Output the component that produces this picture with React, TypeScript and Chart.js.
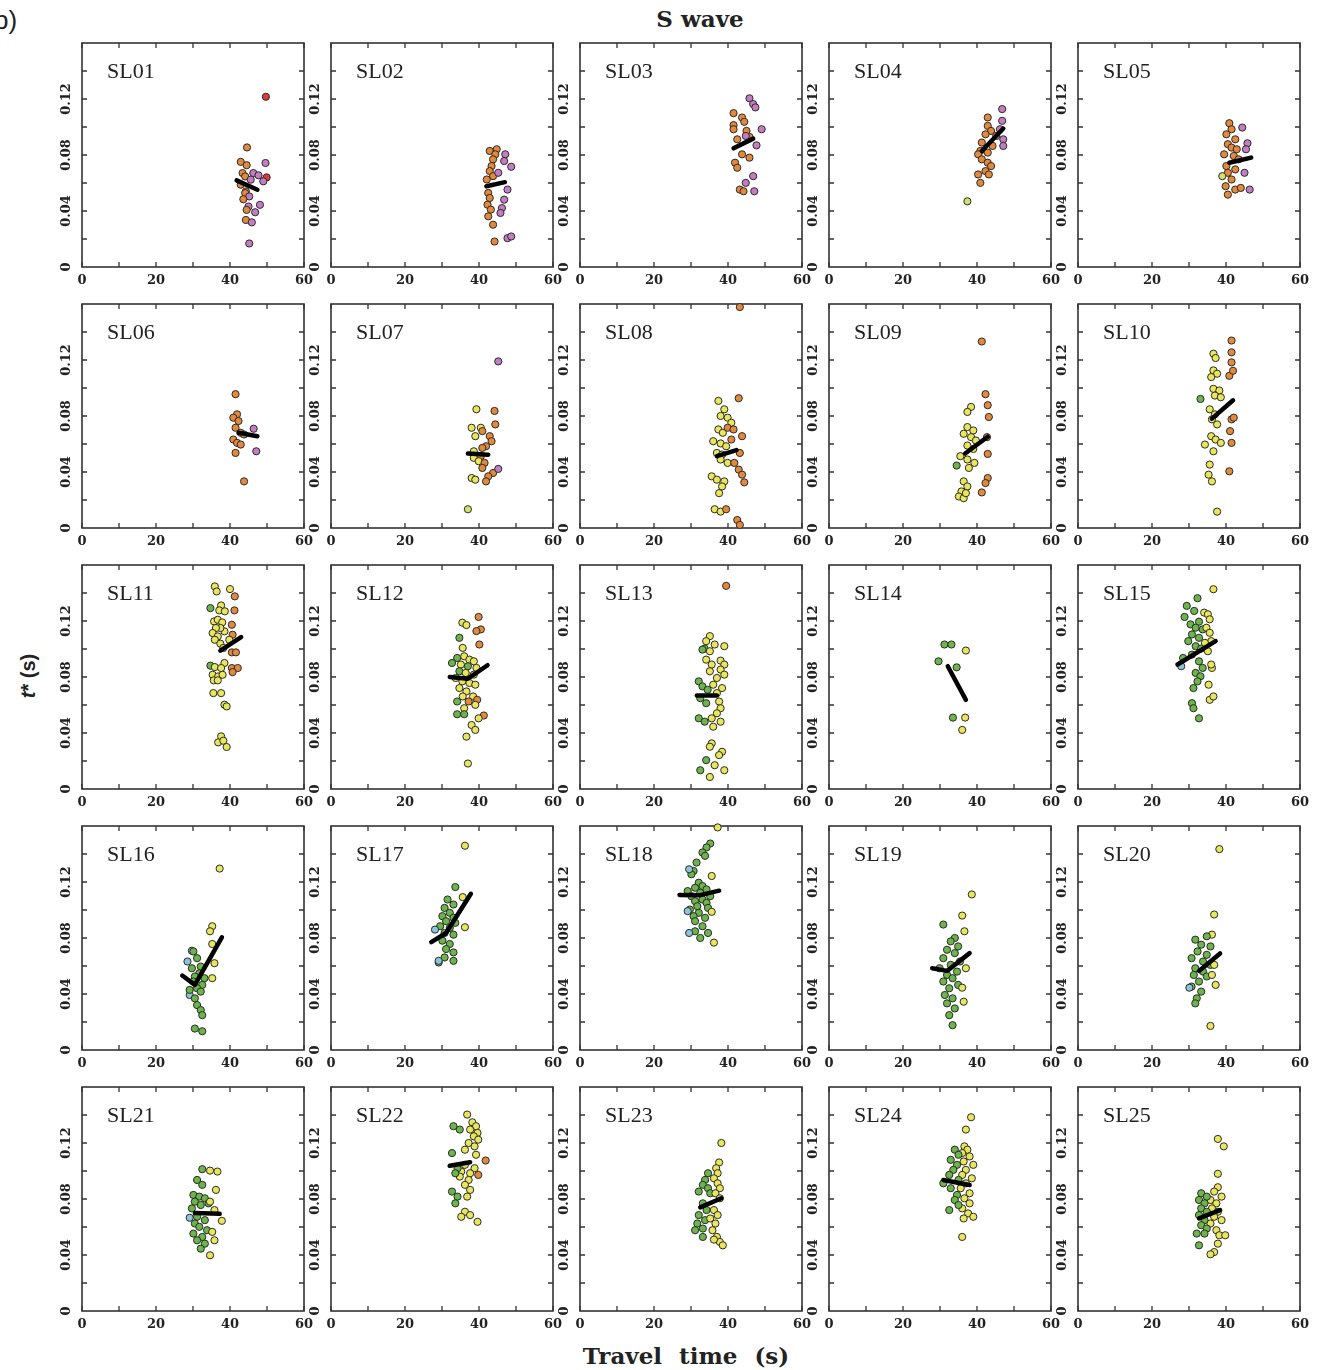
import React, { useEffect, useRef } from "react";
import { Chart, registerables } from "chart.js";

Chart.register(...registerables);

// [travel time (s), t* (s), source group]
type Pt = [number, number, string];
type Fit = [number, number][];

const X_TICKS = [0, 10, 20, 30, 40, 50, 60];
const X_LABELS = [0, 20, 40, 60];
const Y_TICKS = [0.02, 0.04, 0.06, 0.08, 0.1, 0.12, 0.14];
const Y_LABELS = [0, 0.04, 0.08, 0.12];
const Y_LABEL_TEXT = ["0", "0.04", "0.08", "0.12"];
const X_MAX = 60;
const Y_MAX = 0.16;

const GROUP_COLORS: Record<string, string> = {
  O: "#e2893c",
  P: "#c47cc2",
  R: "#e03a3a",
  Y: "#e9e65a",
  G: "#6cb54a",
  B: "#8cc4dc",
  L: "#cfe36a",
};

const SL01: Pt[] = [
  [49.7, 0.1216, "R"], [44.6, 0.0854, "O"], [42.9, 0.0751, "O"], [44.5, 0.0727, "O"], [49.6, 0.0743, "P"],
  [43.4, 0.0671, "O"], [44.1, 0.0647, "O"], [46.3, 0.0671, "P"], [47.7, 0.0655, "P"], [49.9, 0.064, "R"],
  [49.0, 0.0612, "P"], [45.6, 0.0624, "P"], [42.9, 0.0588, "O"], [44.3, 0.054, "O"], [44.1, 0.0528, "O"],
  [45.2, 0.0504, "P"], [43.6, 0.0484, "O"], [45.0, 0.0432, "P"], [48.1, 0.0444, "P"], [44.5, 0.0408, "O"],
  [46.8, 0.0391, "P"], [44.3, 0.0336, "O"], [45.9, 0.0319, "P"], [45.2, 0.0168, "P"],
];
const SL01_FIT: Fit = [[41.8, 0.0619], [47.4, 0.0552]];

const SL02: Pt[] = [
  [44.8, 0.0841, "O"], [42.9, 0.0829, "O"], [44.4, 0.0805, "O"], [43.8, 0.0769, "O"], [43.4, 0.0721, "O"],
  [42.9, 0.0685, "O"], [43.8, 0.0649, "O"], [42.1, 0.0625, "O"], [42.5, 0.0529, "O"], [42.9, 0.0493, "O"],
  [42.3, 0.0445, "O"], [43.2, 0.041, "O"], [42.5, 0.0362, "O"], [43.8, 0.0302, "O"], [44.2, 0.0182, "O"],
  [47.1, 0.0805, "P"], [46.8, 0.0757, "P"], [48.7, 0.0716, "P"], [45.2, 0.0673, "P"], [47.7, 0.0553, "P"],
  [46.8, 0.0481, "P"], [46.2, 0.0421, "P"], [45.8, 0.0386, "P"], [47.7, 0.0206, "P"], [48.7, 0.0218, "P"],
];
const SL02_FIT: Fit = [[42.0, 0.0577], [47.0, 0.0606]];

const SL03: Pt[] = [
  [45.8, 0.1205, "P"], [46.8, 0.1164, "P"], [47.4, 0.114, "P"], [41.5, 0.1099, "O"], [43.8, 0.1068, "O"],
  [44.4, 0.1037, "O"], [41.5, 0.1013, "O"], [41.5, 0.0984, "O"], [49.1, 0.0984, "P"], [45.0, 0.0972, "O"],
  [45.8, 0.0929, "O"], [44.8, 0.0936, "P"], [42.5, 0.0912, "O"], [47.7, 0.0869, "P"], [43.8, 0.0805, "O"],
  [45.8, 0.0781, "O"], [41.9, 0.0745, "O"], [42.5, 0.0709, "O"], [46.8, 0.0649, "P"], [44.8, 0.0601, "P"],
  [43.2, 0.0553, "O"], [44.2, 0.0541, "O"], [47.1, 0.0541, "P"],
];
const SL03_FIT: Fit = [[41.5, 0.0848], [46.8, 0.0917]];

const SL04: Pt[] = [
  [46.8, 0.1128, "P"], [42.9, 0.1068, "O"], [46.8, 0.1044, "P"], [42.9, 0.1008, "O"], [43.8, 0.0972, "O"],
  [46.2, 0.0984, "P"], [42.3, 0.0948, "O"], [45.2, 0.0936, "O"], [47.1, 0.0912, "P"], [41.3, 0.0889, "O"],
  [44.2, 0.0865, "O"], [47.1, 0.0865, "P"], [40.9, 0.0829, "O"], [42.9, 0.0817, "O"], [40.3, 0.0805, "O"],
  [41.3, 0.0769, "O"], [42.9, 0.0745, "O"], [43.8, 0.0721, "O"], [42.3, 0.0685, "O"], [40.3, 0.0661, "O"],
  [43.2, 0.0661, "O"], [40.9, 0.0601, "O"], [37.4, 0.0469, "L"],
];
const SL04_FIT: Fit = [[41.3, 0.0829], [47.1, 0.0989]];

const SL05: Pt[] = [
  [40.9, 0.1027, "O"], [41.5, 0.0984, "O"], [40.1, 0.0948, "O"], [42.5, 0.0912, "O"], [40.5, 0.0877, "O"],
  [41.5, 0.0853, "O"], [42.9, 0.0841, "O"], [39.5, 0.0805, "O"], [42.1, 0.0793, "O"], [40.1, 0.0721, "O"],
  [42.5, 0.0697, "O"], [40.5, 0.0673, "O"], [41.5, 0.0625, "O"], [39.9, 0.0577, "O"], [42.5, 0.0553, "O"],
  [40.5, 0.0517, "O"], [43.4, 0.0769, "O"], [44.0, 0.0565, "O"], [44.4, 0.0996, "P"], [45.8, 0.0884, "P"],
  [45.4, 0.0841, "P"], [45.0, 0.0673, "P"], [46.4, 0.0553, "P"], [39.0, 0.0649, "L"],
];
const SL05_FIT: Fit = [[40.9, 0.0745], [46.8, 0.0781]];

const SL06: Pt[] = [
  [41.5, 0.0956, "O"], [41.9, 0.0812, "O"], [40.9, 0.0788, "O"], [42.3, 0.0764, "O"], [41.5, 0.0716, "O"],
  [42.9, 0.068, "O"], [43.8, 0.0668, "O"], [40.9, 0.0632, "O"], [41.9, 0.0608, "O"], [42.9, 0.0596, "O"],
  [41.5, 0.0536, "O"], [43.8, 0.0333, "O"], [46.4, 0.0709, "P"], [47.1, 0.0548, "P"],
];
const SL06_FIT: Fit = [[42.3, 0.068], [47.4, 0.0656]];

const SL07: Pt[] = [
  [45.2, 0.119, "P"], [39.3, 0.0848, "Y"], [44.2, 0.0836, "O"], [44.4, 0.074, "O"], [38.0, 0.0716, "Y"],
  [40.5, 0.0716, "Y"], [40.9, 0.0692, "O"], [39.0, 0.0656, "Y"], [42.9, 0.0656, "O"], [43.4, 0.062, "O"],
  [41.9, 0.0584, "O"], [40.9, 0.0572, "O"], [38.6, 0.0548, "Y"], [40.5, 0.0513, "O"], [38.6, 0.0501, "Y"],
  [39.9, 0.0477, "Y"], [41.5, 0.0465, "O"], [40.9, 0.0429, "O"], [43.8, 0.0393, "O"], [42.5, 0.0369, "O"],
  [41.9, 0.0333, "O"], [38.0, 0.0357, "Y"], [39.0, 0.0345, "Y"], [45.2, 0.0422, "P"], [37.0, 0.0134, "L"],
];
const SL07_FIT: Fit = [[37.0, 0.0532], [42.5, 0.0524]];

const SL08: Pt[] = [
  [43.2, 0.1578, "O"], [37.4, 0.0908, "Y"], [42.9, 0.0927, "O"], [39.0, 0.0848, "Y"], [38.0, 0.08, "Y"],
  [39.9, 0.0788, "Y"], [40.9, 0.0752, "Y"], [37.4, 0.0704, "Y"], [38.6, 0.068, "Y"], [39.9, 0.0716, "O"],
  [41.5, 0.0704, "O"], [43.8, 0.0656, "O"], [40.9, 0.0632, "O"], [36.0, 0.062, "Y"], [38.0, 0.0604, "Y"],
  [39.5, 0.0584, "Y"], [37.0, 0.0536, "Y"], [38.4, 0.0525, "Y"], [38.0, 0.0489, "Y"], [39.9, 0.0465, "Y"],
  [43.2, 0.0536, "O"], [42.9, 0.0417, "O"], [43.8, 0.0381, "O"], [44.4, 0.0326, "O"], [41.7, 0.0465, "O"],
  [35.6, 0.0369, "Y"], [37.0, 0.0345, "Y"], [39.0, 0.0333, "Y"], [38.4, 0.0297, "Y"], [37.6, 0.0249, "Y"],
  [36.4, 0.0134, "Y"], [38.0, 0.0117, "Y"], [39.5, 0.0134, "O"], [42.5, 0.0057, "O"], [43.2, 0.0022, "O"],
];
const SL08_FIT: Fit = [[37.0, 0.0513], [42.3, 0.0556]];

const SL09: Pt[] = [
  [41.3, 0.1332, "O"], [42.3, 0.0956, "O"], [38.4, 0.0865, "Y"], [37.4, 0.0829, "Y"], [42.9, 0.0877, "O"],
  [43.2, 0.0793, "O"], [37.4, 0.0721, "Y"], [39.0, 0.0697, "Y"], [36.4, 0.0673, "Y"], [38.4, 0.0649, "Y"],
  [39.7, 0.0625, "Y"], [37.4, 0.0589, "Y"], [39.0, 0.0565, "Y"], [42.7, 0.0649, "O"], [42.9, 0.0529, "O"],
  [35.5, 0.0513, "Y"], [37.4, 0.0489, "Y"], [39.3, 0.0465, "Y"], [37.8, 0.0429, "Y"], [36.4, 0.0333, "Y"],
  [37.4, 0.0297, "Y"], [35.8, 0.0261, "Y"], [35.1, 0.0225, "Y"], [36.4, 0.0213, "Y"], [37.0, 0.0249, "Y"],
  [34.5, 0.0446, "G"], [42.9, 0.0357, "O"], [42.3, 0.0321, "O"], [41.3, 0.0254, "O"],
];
const SL09_FIT: Fit = [[36.8, 0.0532], [42.9, 0.0652]];

const SL10: Pt[] = [
  [41.5, 0.1339, "O"], [41.5, 0.1255, "O"], [41.5, 0.1183, "O"], [40.9, 0.1087, "O"], [41.9, 0.1123, "O"],
  [36.6, 0.1245, "Y"], [37.2, 0.1214, "Y"], [36.6, 0.1126, "Y"], [37.6, 0.1102, "Y"], [36.0, 0.1078, "Y"],
  [36.6, 0.0994, "Y"], [38.2, 0.0982, "Y"], [37.0, 0.0946, "Y"], [38.6, 0.0934, "Y"], [33.1, 0.0922, "G"],
  [41.5, 0.0776, "O"], [41.1, 0.0692, "O"], [42.1, 0.0788, "O"], [35.6, 0.0848, "Y"], [37.0, 0.0812, "Y"],
  [36.2, 0.0776, "Y"], [37.6, 0.074, "Y"], [36.0, 0.0656, "Y"], [37.2, 0.0632, "Y"], [34.3, 0.0596, "Y"],
  [38.6, 0.0608, "Y"], [36.6, 0.0548, "Y"], [35.6, 0.0453, "Y"], [35.3, 0.0381, "Y"], [36.2, 0.0333, "Y"],
  [37.6, 0.0117, "Y"], [41.5, 0.0608, "O"], [40.9, 0.0405, "O"],
];
const SL10_FIT: Fit = [[36.2, 0.0781], [41.9, 0.0912]];

const SL11: Pt[] = [
  [35.9, 0.1447, "Y"], [36.4, 0.1411, "Y"], [40.0, 0.1428, "Y"], [41.3, 0.1376, "O"], [34.7, 0.1292, "G"],
  [37.6, 0.1311, "Y"], [37.1, 0.1276, "Y"], [38.6, 0.1269, "Y"], [41.2, 0.1276, "O"], [35.7, 0.1197, "Y"],
  [36.7, 0.1209, "Y"], [37.9, 0.119, "Y"], [38.5, 0.1126, "Y"], [37.4, 0.115, "Y"], [36.2, 0.115, "Y"],
  [35.3, 0.1114, "Y"], [36.7, 0.109, "Y"], [35.9, 0.1066, "Y"], [37.4, 0.1038, "Y"], [40.5, 0.1173, "O"],
  [40.7, 0.1102, "O"], [39.8, 0.1066, "Y"], [38.2, 0.1007, "Y"], [40.5, 0.0976, "O"], [41.6, 0.0976, "O"],
  [34.7, 0.0881, "G"], [35.9, 0.0871, "Y"], [38.5, 0.09, "Y"], [37.6, 0.0864, "Y"], [35.3, 0.0816, "Y"],
  [36.8, 0.0804, "Y"], [38.0, 0.0816, "Y"], [35.6, 0.0776, "Y"], [36.7, 0.0776, "Y"], [40.5, 0.0864, "O"],
  [42.1, 0.0864, "O"], [40.7, 0.0835, "O"], [35.5, 0.0685, "Y"], [37.6, 0.0685, "Y"], [38.5, 0.0602, "Y"],
  [39.1, 0.059, "Y"], [37.6, 0.0376, "Y"], [36.8, 0.0333, "Y"], [38.2, 0.0345, "Y"], [39.1, 0.03, "Y"],
];
const SL11_FIT: Fit = [[37.4, 0.0988], [43.0, 0.1085]];

const SL12: Pt[] = [
  [39.9, 0.1229, "O"], [35.5, 0.1188, "Y"], [36.6, 0.1171, "Y"], [40.5, 0.114, "O"], [39.3, 0.1128, "O"],
  [34.7, 0.108, "G"], [35.6, 0.1008, "Y"], [40.1, 0.1032, "O"], [34.1, 0.0936, "G"], [36.0, 0.0948, "Y"],
  [37.4, 0.0924, "Y"], [38.6, 0.0912, "Y"], [32.7, 0.09, "G"], [35.1, 0.0889, "Y"], [37.0, 0.0877, "G"],
  [39.3, 0.0865, "Y"], [34.7, 0.0841, "G"], [36.4, 0.0829, "Y"], [38.6, 0.0817, "Y"], [33.7, 0.0793, "Y"],
  [35.5, 0.0769, "Y"], [37.4, 0.0757, "Y"], [39.0, 0.0745, "Y"], [34.7, 0.0721, "Y"], [36.6, 0.0697, "Y"],
  [35.6, 0.0661, "Y"], [38.4, 0.0661, "Y"], [34.1, 0.0625, "G"], [37.2, 0.0625, "O"], [39.5, 0.0637, "O"],
  [39.0, 0.0601, "Y"], [36.0, 0.0577, "Y"], [34.1, 0.0534, "G"], [36.0, 0.0534, "G"], [41.3, 0.0525, "O"],
  [39.9, 0.0505, "Y"], [38.0, 0.0457, "Y"], [39.0, 0.0422, "Y"], [36.6, 0.0374, "Y"], [37.0, 0.0182, "Y"],
];
const SL12_FIT: Fit = [[32.1, 0.08], [37.0, 0.0788], [42.3, 0.0884]];

const SL13: Pt[] = [
  [39.5, 0.1451, "O"], [35.1, 0.1092, "Y"], [34.1, 0.1056, "Y"], [36.4, 0.1032, "Y"], [33.7, 0.1003, "G"],
  [39.0, 0.102, "Y"], [35.1, 0.0984, "Y"], [33.1, 0.0996, "G"], [34.1, 0.0924, "Y"], [38.0, 0.0917, "Y"],
  [39.0, 0.0889, "Y"], [35.6, 0.0889, "Y"], [38.0, 0.0853, "Y"], [35.1, 0.0841, "Y"], [39.0, 0.0817, "Y"],
  [37.0, 0.0793, "Y"], [36.0, 0.0745, "Y"], [38.4, 0.0721, "Y"], [37.0, 0.0685, "Y"], [37.6, 0.0625, "Y"],
  [38.0, 0.0577, "Y"], [37.0, 0.0541, "Y"], [35.6, 0.0505, "Y"], [38.0, 0.0481, "Y"], [36.0, 0.0445, "Y"],
  [32.1, 0.0769, "G"], [33.1, 0.0733, "G"], [34.5, 0.0709, "G"], [32.5, 0.0649, "G"], [34.1, 0.0613, "G"],
  [32.1, 0.0505, "G"], [33.7, 0.0481, "G"], [35.6, 0.0326, "Y"], [35.1, 0.0302, "Y"], [38.4, 0.0266, "Y"],
  [37.6, 0.0242, "Y"], [36.4, 0.017, "Y"], [39.0, 0.0134, "Y"], [35.1, 0.0086, "Y"], [34.1, 0.0206, "G"],
  [32.5, 0.0134, "G"],
];
const SL13_FIT: Fit = [[31.6, 0.0668], [37.0, 0.0668]];

const SL14: Pt[] = [
  [31.2, 0.1032, "G"], [33.1, 0.1032, "G"], [37.0, 0.0989, "Y"], [29.6, 0.0912, "G"], [34.5, 0.0869, "G"],
  [33.5, 0.051, "G"], [36.8, 0.051, "Y"], [36.0, 0.0422, "Y"],
];
const SL14_FIT: Fit = [[32.1, 0.0877], [37.0, 0.0637]];

const SL15: Pt[] = [
  [36.6, 0.1427, "Y"], [32.3, 0.1363, "G"], [29.4, 0.1308, "G"], [31.4, 0.1272, "G"], [28.8, 0.1229, "G"],
  [32.7, 0.1195, "G"], [34.1, 0.126, "Y"], [35.1, 0.1248, "Y"], [35.6, 0.1212, "Y"], [30.4, 0.1176, "G"],
  [31.8, 0.1152, "G"], [33.7, 0.114, "G"], [30.8, 0.1104, "G"], [32.7, 0.108, "G"], [29.8, 0.1056, "G"],
  [31.8, 0.102, "G"], [33.3, 0.1003, "G"], [34.7, 0.1152, "Y"], [35.6, 0.1116, "Y"], [36.0, 0.1056, "Y"],
  [34.3, 0.1044, "Y"], [35.1, 0.0984, "Y"], [27.9, 0.0877, "B"], [28.4, 0.0936, "G"], [30.8, 0.096, "G"],
  [32.7, 0.0912, "G"], [33.7, 0.0865, "G"], [31.8, 0.0829, "G"], [33.1, 0.0805, "G"], [32.3, 0.0769, "G"],
  [31.2, 0.0721, "G"], [36.2, 0.0865, "Y"], [36.0, 0.0889, "Y"], [35.3, 0.0745, "Y"], [35.6, 0.0637, "Y"],
  [36.6, 0.0661, "Y"], [30.8, 0.0613, "G"], [31.2, 0.0577, "G"], [32.7, 0.0505, "G"],
];
const SL15_FIT: Fit = [[26.9, 0.0889], [37.2, 0.1056]];

const SL16: Pt[] = [
  [37.2, 0.1296, "Y"], [35.2, 0.0884, "Y"], [34.6, 0.0848, "Y"], [35.2, 0.0757, "Y"], [35.8, 0.062, "Y"],
  [35.2, 0.0513, "Y"], [29.7, 0.0709, "B"], [28.5, 0.0632, "B"], [29.1, 0.0393, "B"], [30.1, 0.0704, "G"],
  [31.1, 0.0656, "G"], [29.7, 0.0584, "G"], [32.1, 0.0596, "G"], [31.7, 0.0548, "G"], [30.5, 0.0525, "G"],
  [33.1, 0.0513, "G"], [30.1, 0.0489, "G"], [32.5, 0.0465, "G"], [31.1, 0.0441, "G"], [29.1, 0.0429, "G"],
  [32.1, 0.0417, "G"], [30.5, 0.0369, "G"], [31.1, 0.0321, "G"], [32.1, 0.0285, "G"], [32.5, 0.0249, "G"],
  [30.5, 0.0153, "G"], [32.5, 0.0134, "G"],
];
const SL16_FIT: Fit = [[27.1, 0.0532], [30.5, 0.0465], [37.8, 0.0805]];

const SL17: Pt[] = [
  [36.2, 0.1459, "Y"], [33.6, 0.1164, "G"], [35.6, 0.1092, "Y"], [31.5, 0.1075, "G"], [33.1, 0.1039, "G"],
  [30.7, 0.1015, "G"], [32.1, 0.098, "G"], [30.1, 0.0956, "G"], [33.1, 0.0944, "G"], [31.1, 0.092, "G"],
  [33.6, 0.0908, "G"], [29.5, 0.0884, "G"], [32.1, 0.0872, "G"], [30.7, 0.0836, "G"], [33.1, 0.0824, "G"],
  [30.1, 0.0781, "G"], [32.1, 0.0757, "G"], [31.1, 0.0721, "G"], [33.1, 0.0697, "G"], [30.7, 0.0661, "G"],
  [33.1, 0.0637, "G"], [29.1, 0.0625, "G"], [36.2, 0.0877, "Y"], [28.1, 0.086, "B"], [29.1, 0.0637, "B"],
];
const SL17_FIT: Fit = [[27.1, 0.0771], [31.1, 0.0836], [37.8, 0.1116]];

const SL18: Pt[] = [
  [37.2, 0.159, "Y"], [35.2, 0.1475, "G"], [34.2, 0.1447, "G"], [33.1, 0.1411, "G"], [33.8, 0.1387, "G"],
  [31.5, 0.1339, "G"], [30.7, 0.1279, "G"], [30.1, 0.1255, "G"], [29.5, 0.1291, "B"], [35.6, 0.1243, "Y"],
  [32.1, 0.1195, "G"], [33.1, 0.1171, "G"], [31.1, 0.1159, "G"], [34.2, 0.1147, "G"], [29.1, 0.1135, "G"],
  [32.5, 0.1123, "G"], [30.1, 0.1099, "G"], [35.2, 0.1099, "G"], [33.1, 0.1075, "G"], [31.1, 0.1063, "G"],
  [34.2, 0.1051, "G"], [31.7, 0.1027, "G"], [29.7, 0.1003, "G"], [34.6, 0.1015, "G"], [32.1, 0.098, "G"],
  [30.7, 0.0956, "G"], [33.8, 0.0944, "G"], [31.1, 0.092, "G"], [33.1, 0.0884, "G"], [31.1, 0.0848, "G"],
  [34.6, 0.0836, "G"], [32.5, 0.08, "G"], [29.1, 0.0992, "B"], [29.5, 0.0836, "B"], [35.6, 0.0987, "Y"],
  [36.2, 0.0767, "Y"],
];
const SL18_FIT: Fit = [[26.9, 0.1108], [32.5, 0.1106], [37.6, 0.1138]];

const SL19: Pt[] = [
  [38.6, 0.1111, "Y"], [36.0, 0.096, "Y"], [36.6, 0.0848, "Y"], [30.9, 0.0896, "G"], [34.0, 0.08, "G"],
  [32.9, 0.0776, "G"], [34.9, 0.074, "G"], [31.9, 0.0716, "G"], [34.0, 0.0692, "G"], [30.9, 0.0656, "G"],
  [35.4, 0.0632, "G"], [32.9, 0.0608, "G"], [29.9, 0.0584, "G"], [34.6, 0.056, "G"], [31.9, 0.0536, "G"],
  [33.4, 0.0513, "G"], [30.9, 0.0489, "G"], [34.9, 0.0465, "G"], [32.5, 0.0441, "G"], [31.3, 0.0393, "G"],
  [33.4, 0.0369, "G"], [31.9, 0.0333, "G"], [34.0, 0.0297, "G"], [32.5, 0.0249, "G"], [33.4, 0.0177, "G"],
  [37.0, 0.0584, "Y"], [36.0, 0.0445, "Y"], [36.4, 0.0345, "Y"],
];
const SL19_FIT: Fit = [[27.9, 0.0584], [31.9, 0.0565], [38.0, 0.0692]];

const SL20: Pt[] = [
  [38.2, 0.1435, "Y"], [36.8, 0.0968, "Y"], [36.2, 0.0824, "Y"], [31.7, 0.0788, "G"], [34.8, 0.0812, "G"],
  [33.3, 0.0752, "G"], [35.8, 0.074, "G"], [32.3, 0.0704, "G"], [34.8, 0.068, "G"], [30.7, 0.0656, "G"],
  [33.8, 0.0632, "G"], [35.8, 0.0608, "G"], [31.7, 0.0584, "G"], [33.8, 0.056, "G"], [31.3, 0.0536, "G"],
  [34.8, 0.0525, "G"], [32.7, 0.0489, "G"], [30.7, 0.0453, "G"], [33.3, 0.0417, "G"], [32.1, 0.0369, "G"],
  [31.7, 0.0333, "G"], [36.8, 0.0608, "Y"], [36.2, 0.0536, "Y"], [37.2, 0.0465, "Y"], [30.1, 0.0445, "B"],
  [35.8, 0.0172, "Y"],
];
const SL20_FIT: Fit = [[32.7, 0.0565], [38.4, 0.069]];

const SL21: Pt[] = [
  [34.6, 0.1003, "Y"], [36.6, 0.0996, "Y"], [32.5, 0.1013, "G"], [31.1, 0.0936, "G"], [32.5, 0.0901, "G"],
  [36.2, 0.0865, "Y"], [30.1, 0.0829, "G"], [31.7, 0.0817, "G"], [33.2, 0.0805, "G"], [30.5, 0.0781, "G"],
  [32.1, 0.0757, "G"], [34.2, 0.0769, "G"], [29.7, 0.0733, "G"], [34.6, 0.0781, "Y"], [35.8, 0.0721, "Y"],
  [29.1, 0.0666, "B"], [31.1, 0.0673, "G"], [33.2, 0.0649, "G"], [30.5, 0.0625, "G"], [31.7, 0.0601, "G"],
  [33.8, 0.0577, "G"], [30.1, 0.0553, "G"], [32.5, 0.0529, "G"], [31.1, 0.0505, "G"], [33.2, 0.0481, "G"],
  [32.1, 0.0445, "G"], [37.8, 0.0644, "Y"], [35.2, 0.0565, "Y"], [35.8, 0.0505, "Y"], [34.6, 0.0398, "Y"],
];
const SL21_FIT: Fit = [[30.5, 0.07], [37.2, 0.0694]];

const SL22: Pt[] = [
  [36.8, 0.1403, "Y"], [38.2, 0.1348, "Y"], [39.2, 0.132, "Y"], [37.6, 0.1296, "Y"], [39.6, 0.1272, "Y"],
  [38.6, 0.1248, "Y"], [39.8, 0.1224, "Y"], [33.1, 0.132, "G"], [34.8, 0.1296, "G"], [37.2, 0.12, "Y"],
  [38.8, 0.1176, "Y"], [36.2, 0.1152, "Y"], [39.2, 0.1116, "Y"], [32.7, 0.1128, "G"], [41.8, 0.1075, "O"],
  [36.2, 0.1044, "Y"], [38.8, 0.102, "Y"], [35.2, 0.0996, "Y"], [37.6, 0.0984, "Y"], [34.8, 0.096, "Y"],
  [37.2, 0.0936, "Y"], [39.8, 0.0972, "O"], [34.2, 0.102, "G"], [33.6, 0.0984, "G"], [36.2, 0.0901, "Y"],
  [37.6, 0.0865, "Y"], [36.8, 0.0817, "Y"], [32.7, 0.0853, "G"], [34.2, 0.0817, "G"], [33.6, 0.0769, "G"],
  [36.2, 0.0709, "Y"], [37.6, 0.0685, "Y"], [35.2, 0.0673, "Y"], [39.6, 0.0637, "Y"],
];
const SL22_FIT: Fit = [[32.1, 0.1037], [37.6, 0.1063]];

const SL23: Pt[] = [
  [38.2, 0.12, "Y"], [37.6, 0.1061, "Y"], [36.8, 0.102, "Y"], [37.2, 0.0984, "Y"], [36.2, 0.0948, "Y"],
  [37.2, 0.0912, "Y"], [37.8, 0.0877, "Y"], [34.6, 0.0984, "G"], [33.8, 0.0936, "G"], [33.2, 0.0901, "G"],
  [34.6, 0.0877, "G"], [32.1, 0.0853, "G"], [35.2, 0.0841, "G"], [36.6, 0.0841, "Y"], [37.8, 0.0805, "Y"],
  [33.2, 0.0769, "G"], [34.2, 0.0721, "G"], [32.1, 0.0685, "G"], [33.8, 0.0649, "G"], [31.7, 0.0625, "G"],
  [33.2, 0.0589, "G"], [31.1, 0.0577, "G"], [33.2, 0.0529, "G"], [36.2, 0.0721, "Y"], [37.2, 0.0685, "Y"],
  [35.2, 0.0661, "Y"], [36.6, 0.0625, "Y"], [35.8, 0.0577, "Y"], [37.0, 0.0529, "Y"], [37.8, 0.0493, "Y"],
  [38.6, 0.0469, "Y"], [36.2, 0.051, "Y"],
];
const SL23_FIT: Fit = [[32.5, 0.074], [38.2, 0.0805]];

const SL24: Pt[] = [
  [38.4, 0.1384, "Y"], [37.0, 0.1296, "Y"], [36.6, 0.1176, "Y"], [37.4, 0.1152, "Y"], [36.0, 0.1128, "Y"],
  [38.0, 0.1104, "Y"], [36.4, 0.1068, "Y"], [39.0, 0.1044, "Y"], [37.0, 0.1008, "Y"], [36.0, 0.0972, "Y"],
  [38.6, 0.0948, "Y"], [37.0, 0.0912, "Y"], [35.6, 0.0877, "Y"], [38.0, 0.0841, "Y"], [36.6, 0.0805, "Y"],
  [38.0, 0.0769, "Y"], [36.0, 0.0733, "Y"], [37.6, 0.0697, "Y"], [39.0, 0.0673, "Y"], [36.4, 0.0661, "Y"],
  [34.0, 0.1152, "G"], [35.0, 0.1116, "G"], [32.9, 0.108, "G"], [34.6, 0.1044, "G"], [33.6, 0.1008, "G"],
  [32.5, 0.0972, "G"], [35.0, 0.0936, "G"], [30.9, 0.0912, "G"], [32.9, 0.0877, "G"], [34.6, 0.0829, "G"],
  [34.0, 0.0793, "G"], [35.0, 0.0757, "G"], [32.5, 0.0721, "G"], [36.0, 0.0529, "Y"],
];
const SL24_FIT: Fit = [[30.9, 0.0936], [38.0, 0.09]];

const SL25: Pt[] = [
  [37.8, 0.1229, "Y"], [39.4, 0.1176, "Y"], [37.8, 0.098, "Y"], [37.8, 0.0884, "Y"], [36.8, 0.0853, "Y"],
  [38.8, 0.0817, "Y"], [35.8, 0.0793, "Y"], [37.4, 0.0769, "Y"], [36.2, 0.0733, "Y"], [37.8, 0.0709, "Y"],
  [36.8, 0.0673, "Y"], [38.8, 0.0649, "Y"], [35.8, 0.0625, "Y"], [37.4, 0.0577, "Y"], [38.2, 0.0541, "Y"],
  [33.3, 0.0841, "G"], [34.8, 0.0817, "G"], [32.7, 0.0793, "G"], [34.2, 0.0769, "G"], [33.3, 0.0733, "G"],
  [34.8, 0.0709, "G"], [32.7, 0.0685, "G"], [34.2, 0.0649, "G"], [33.3, 0.0613, "G"], [34.8, 0.0589, "G"],
  [32.1, 0.0553, "G"], [34.2, 0.0553, "G"], [39.8, 0.0541, "Y"], [37.8, 0.0481, "Y"], [36.8, 0.0421, "Y"],
  [35.8, 0.0405, "Y"], [32.7, 0.0469, "G"],
];
const SL25_FIT: Fit = [[32.7, 0.0661], [38.4, 0.0721]];

const STATION_NAMES = [
  "SL01", "SL02", "SL03", "SL04", "SL05", "SL06", "SL07", "SL08", "SL09", "SL10",
  "SL11", "SL12", "SL13", "SL14", "SL15", "SL16", "SL17", "SL18", "SL19", "SL20",
  "SL21", "SL22", "SL23", "SL24", "SL25",
];
const STATION_POINTS = [
  SL01, SL02, SL03, SL04, SL05, SL06, SL07, SL08, SL09, SL10, SL11, SL12, SL13,
  SL14, SL15, SL16, SL17, SL18, SL19, SL20, SL21, SL22, SL23, SL24, SL25,
];
const STATION_FITS = [
  SL01_FIT, SL02_FIT, SL03_FIT, SL04_FIT, SL05_FIT, SL06_FIT, SL07_FIT, SL08_FIT, SL09_FIT,
  SL10_FIT, SL11_FIT, SL12_FIT, SL13_FIT, SL14_FIT, SL15_FIT, SL16_FIT, SL17_FIT, SL18_FIT,
  SL19_FIT, SL20_FIT, SL21_FIT, SL22_FIT, SL23_FIT, SL24_FIT, SL25_FIT,
];

// grid geometry (frame of each small plot)
const COL_LEFT = [82, 331, 580, 829, 1078];
const ROW_TOP = [43, 304, 565, 826, 1087];
const FRAME_W = 222;
const FRAME_H = 224;
const PAD_L = 40;
const PAD_R = 14;
const PAD_T = 10;
const PAD_B = 26;
const TICK_LEN = 5;
const INK = "#222";

function panelDecor(name: string) {
  return {
    id: "panelDecor",
    beforeDatasetsDraw(chart: any) {
      const { ctx, chartArea: a, scales } = chart;
      const xs = scales.x;
      const ys = scales.y;
      ctx.save();
      ctx.strokeStyle = "#333";
      ctx.lineWidth = 1.6;
      ctx.strokeRect(a.left, a.top, a.right - a.left, a.bottom - a.top);

      ctx.lineWidth = 1.3;
      ctx.beginPath();
      for (const v of X_TICKS) {
        const px = xs.getPixelForValue(v);
        ctx.moveTo(px, a.bottom);
        ctx.lineTo(px, a.bottom - TICK_LEN);
        ctx.moveTo(px, a.top);
        ctx.lineTo(px, a.top + TICK_LEN);
      }
      for (const v of Y_TICKS) {
        const py = ys.getPixelForValue(v);
        ctx.moveTo(a.left, py);
        ctx.lineTo(a.left + TICK_LEN, py);
        ctx.moveTo(a.right, py);
        ctx.lineTo(a.right - TICK_LEN, py);
      }
      ctx.stroke();

      ctx.fillStyle = INK;
      ctx.font = 'bold 13px "DejaVu Serif"';
      ctx.textAlign = "center";
      ctx.textBaseline = "middle";
      for (const v of X_LABELS) {
        ctx.fillText(String(v), xs.getPixelForValue(v), a.bottom + 14);
      }
      Y_LABELS.forEach((v, i) => {
        ctx.save();
        ctx.translate(a.left - 15, ys.getPixelForValue(v));
        ctx.rotate(-Math.PI / 2);
        ctx.fillText(Y_LABEL_TEXT[i], 0, 0);
        ctx.restore();
      });

      ctx.font = '22px "Liberation Serif"';
      ctx.textAlign = "left";
      ctx.textBaseline = "alphabetic";
      ctx.fillText(name, a.left + 25, a.top + 35);
      ctx.restore();
    },
  };
}

function Panel({ index }: { index: number }) {
  const ref = useRef<HTMLCanvasElement>(null);
  const name = STATION_NAMES[index];
  const pts = STATION_POINTS[index];
  const fit = STATION_FITS[index];
  const col = index % 5;
  const row = Math.floor(index / 5);
  const width = FRAME_W + PAD_L + PAD_R;
  const height = FRAME_H + PAD_T + PAD_B;

  useEffect(() => {
    const chart = new Chart(ref.current as HTMLCanvasElement, {
      type: "scatter",
      data: {
        datasets: [
          {
            data: fit.map(([x, y]) => ({ x, y })),
            showLine: true,
            borderColor: "#000",
            borderWidth: 4.5,
            borderCapStyle: "round",
            borderJoinStyle: "round",
            pointRadius: 0,
            order: 0,
            clip: false,
          } as any,
          {
            data: pts.map(([x, y]) => ({ x, y })),
            backgroundColor: pts.map((p) => GROUP_COLORS[p[2]]),
            borderColor: "#2a2a2a",
            borderWidth: 1,
            pointRadius: 3.6,
            order: 1,
            clip: false,
          } as any,
        ],
      },
      options: {
        responsive: false,
        animation: false,
        devicePixelRatio: 1,
        events: [],
        layout: { padding: { left: PAD_L, right: PAD_R, top: PAD_T, bottom: PAD_B } },
        plugins: { legend: { display: false }, tooltip: { enabled: false } },
        scales: {
          x: { type: "linear", min: 0, max: X_MAX, display: false },
          y: { type: "linear", min: 0, max: Y_MAX, display: false },
        },
      },
      plugins: [panelDecor(name)],
    });
    return () => chart.destroy();
  }, []);

  return (
    <canvas
      ref={ref}
      width={width}
      height={height}
      style={{
        position: "absolute",
        left: COL_LEFT[col] - PAD_L,
        top: ROW_TOP[row] - PAD_T,
        width,
        height,
      }}
    />
  );
}

export default function App() {
  const heading: React.CSSProperties = {
    position: "absolute",
    fontFamily: '"DejaVu Serif", serif',
    fontWeight: "bold",
    fontSize: 23,
    lineHeight: "23px",
    color: INK,
    whiteSpace: "pre",
  };
  return (
    <div
      style={{
        position: "absolute",
        left: 0,
        top: 0,
        width: 1322,
        height: 1370,
        background: "#fff",
        overflow: "hidden",
      }}
    >
      <div
        style={{
          position: "absolute",
          left: -6,
          top: 7,
          fontFamily: '"Liberation Sans", sans-serif',
          fontSize: 26,
          lineHeight: "26px",
          color: INK,
        }}
      >
        b)
      </div>
      <div style={{ ...heading, left: 700, top: 7, transform: "translateX(-50%)" }}>S wave</div>
      <div style={{ ...heading, left: 686, top: 1344, transform: "translateX(-50%)", wordSpacing: 9 }}>
        Travel time (s)
      </div>
      <div
        style={{
          position: "absolute",
          left: 28,
          top: 676,
          transform: "translate(-50%, -50%) rotate(-90deg)",
          fontFamily: '"Liberation Sans", sans-serif',
          fontWeight: "bold",
          fontSize: 20,
          color: INK,
          whiteSpace: "pre",
        }}
      >
        <i>t</i>* (s)
      </div>
      {STATION_NAMES.map((n, i) => (
        <Panel key={n} index={i} />
      ))}
    </div>
  );
}
